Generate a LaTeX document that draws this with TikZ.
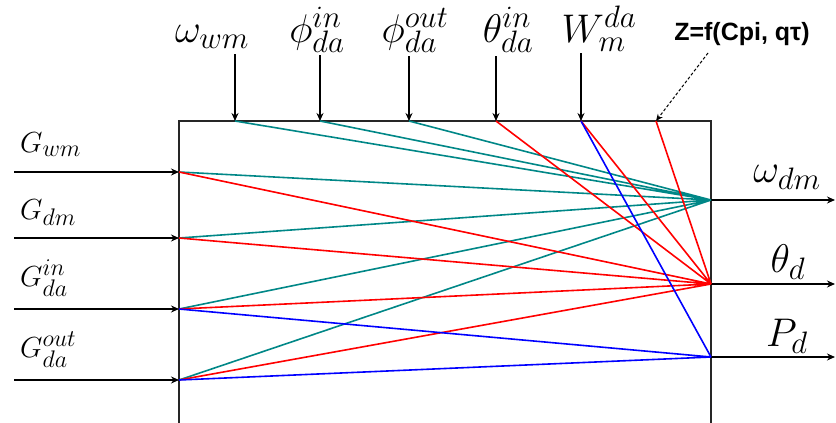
\RequirePackage{fix-cm}
\documentclass[tikz,border=0pt]{standalone}
\usepackage{amsmath}
\usepackage{fontspec}
\newfontfamily\zfont{Liberation Sans}
\usepackage{tikz}
\usetikzlibrary{arrows.meta}
\definecolor{tealc}{RGB}{0,135,135}
\DeclareMathSizes{29}{29}{24}{18}
\DeclareMathSizes{40}{40}{31}{24}

\begin{document}
\begin{tikzpicture}[
  x=1pt,y=-1pt,
  frame/.style={draw=black!85,line width=2.2pt},
  feed/.style={-{Stealth[length=8pt,width=7pt]},line width=1.3pt},
  zarr/.style={-{Stealth[length=7pt,width=6pt]},line width=1pt,densely dashed},
  lftlbl/.style={font=\fontsize{29}{34}\selectfont,anchor=base west,inner sep=0pt},
  toplbl/.style={font=\fontsize{40}{46}\selectfont,anchor=base,inner sep=0pt},
  outlbl/.style={font=\fontsize{40}{46}\selectfont,anchor=base,inner sep=0pt},
  zlbl/.style={font=\zfont\bfseries\fontsize{25}{30}\selectfont,inner sep=0pt},
  tl/.style={draw=tealc,line width=1.6pt},
  rl/.style={draw=red,line width=1.6pt},
  bl/.style={draw=blue,line width=1.6pt},
]
\useasboundingbox (0,0) rectangle (836,423);

% the block (open at the bottom)
\draw[frame] (179,423) |- (711,121) -- (711,423);

% ports on the block
\coordinate (wwm) at (235,121);
\coordinate (phin) at (320,121);
\coordinate (phout) at (409,121);
\coordinate (thin) at (496,121);
\coordinate (wda) at (581,121);
\coordinate (zf) at (656,121);
\coordinate (gwm) at (179,172);
\coordinate (gdm) at (179,238);
\coordinate (gin) at (179,309);
\coordinate (gout) at (179,380);
\coordinate (wdm) at (711,200);
\coordinate (thd) at (711,284);
\coordinate (pd) at (711,357);

% inputs from the top
\node[toplbl] (lwwm) at (212,42) {$\omega_{wm}$};
\node[toplbl] (lphin) at (317,42) {$\phi_{da}^{in}$};
\node[toplbl] (lphout) at (415,42) {$\phi_{da}^{out}$};
\node[toplbl] (lthin) at (508,42) {$\theta_{da}^{in}$};
\node[toplbl] (lwda) at (599,42) {$W_m^{da}$};
\node[zlbl] (lz) at (742,34) {Z=f(Cpi, qτ)};
\coordinate (wwm0) at (235,54);
\coordinate (phin0) at (320,55);
\coordinate (phout0) at (409,56);
\coordinate (thin0) at (496,56);
\coordinate (wda0) at (581,53);
\coordinate (zf0) at (708,53);
\draw[feed] (wwm0) -- (wwm);
\draw[feed] (phin0) -- (phin);
\draw[feed] (phout0) -- (phout);
\draw[feed] (thin0) -- (thin);
\draw[feed] (wda0) -- (wda);
\draw[zarr] (zf0) -- (zf);

% inputs from the left
\node[lftlbl] (lgwm) at (20,152) {$G_{wm}$};
\node[lftlbl] (lgdm) at (20,219) {$G_{dm}$};
\node[lftlbl] (lgin) at (20,286) {$G_{da}^{in}$};
\node[lftlbl] (lgout) at (20,357) {$G_{da}^{out}$};
\coordinate (gwm0) at (14,172);
\coordinate (gdm0) at (14,238);
\coordinate (gin0) at (14,309);
\coordinate (gout0) at (14,380);
\draw[feed] (gwm0) -- (gwm);
\draw[feed] (gdm0) -- (gdm);
\draw[feed] (gin0) -- (gin);
\draw[feed] (gout0) -- (gout);

% outputs
\node[outlbl] (lwdm) at (787,182) {$\omega_{dm}$};
\node[outlbl] (lthd) at (788,272) {$\theta_d$};
\node[outlbl] (lpd) at (787,346) {$P_d$};
\coordinate (wdm1) at (835,200);
\coordinate (thd1) at (835,284);
\coordinate (pd1) at (835,357);
\draw[feed] (wdm) -- (wdm1);
\draw[feed] (thd) -- (thd1);
\draw[feed] (pd) -- (pd1);

% dependencies inside the block
\draw[tl] (wwm) -- (wdm) (phin) -- (wdm) (phout) -- (wdm)
          (gwm) -- (wdm) (gdm) -- (wdm) (gin) -- (wdm) (gout) -- (wdm);
\draw[rl] (thin) -- (thd) (wda) -- (thd) (zf) -- (thd)
          (gwm) -- (thd) (gdm) -- (thd) (gin) -- (thd) (gout) -- (thd);
\draw[bl] (wda) -- (pd) (gin) -- (pd) (gout) -- (pd);
\end{tikzpicture}
\end{document}
